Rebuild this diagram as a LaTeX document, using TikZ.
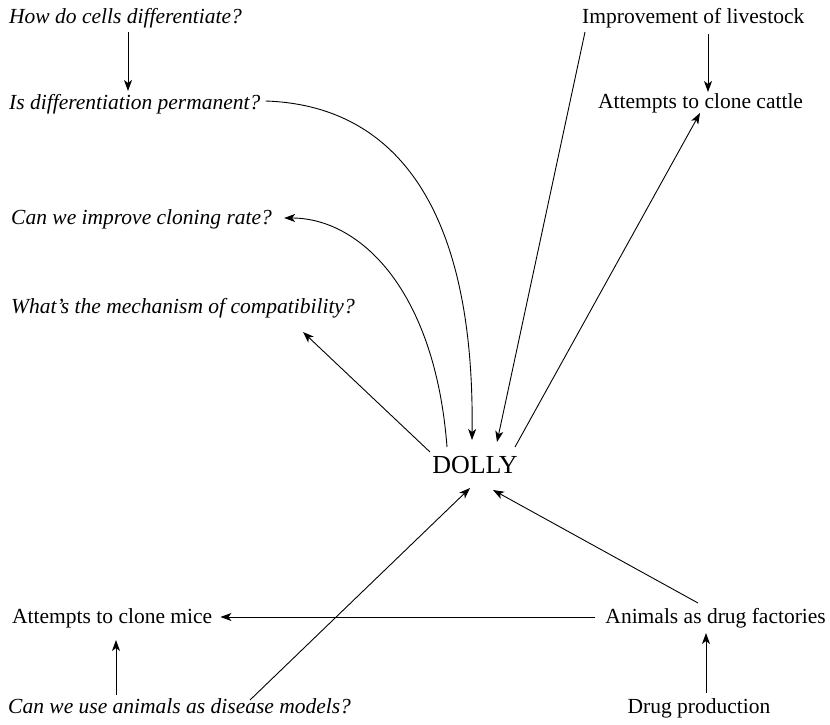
\documentclass[tikz,border=0pt]{standalone}
\usepackage{fontspec}
\setmainfont{Liberation Serif}
\usetikzlibrary{arrows.meta,calc}
\tikzset{
  lbl/.style={inner sep=0pt, font=\fontsize{21.5}{24}\selectfont},
  qst/.style={inner sep=0pt, font=\fontsize{21.5}{24}\selectfont\itshape},
  hub/.style={inner sep=0pt, font=\fontsize{26}{30}\selectfont},
  arr/.style={-{Stealth[length=11pt,width=8pt,inset=3pt]}, line width=0.9pt},
  con/.style={line width=0.9pt}
}
\begin{document}
\begin{tikzpicture}[x=1pt,y=-1pt]
\useasboundingbox (0,0) rectangle (830,725);
% nodes
\node[qst, anchor=base west] (how) at (9,24) {How do cells differentiate?};
\node[qst, anchor=base west] (isd) at (9,109) {Is differentiation permanent?};
\node[qst, anchor=base west] (cir) at (11,224) {Can we improve cloning rate?};
\node[qst, anchor=base west] (wmc) at (11,313) {What’s the mechanism of compatibility?};
\node[lbl, anchor=base west] (imp) at (582,24) {Improvement of livestock};
\node[lbl, anchor=base west] (cat) at (598,108) {Attempts to clone cattle};
\node[hub] (dolly) at (475,465) {DOLLY};
\node[lbl, anchor=base west] (mice) at (12,623) {Attempts to clone mice};
\node[lbl, anchor=base east] (ani) at (826,623) {Animals as drug factories};
\node[qst, anchor=base west] (use) at (8,713) {Can we use animals as disease models?};
\node[lbl, anchor=base] (drug) at (699,713) {Drug production};
% connectors
\draw[arr] ($(how.base west)+(119,8)$) -- ($(isd.base west)+(119,-18)$);
\draw[arr] ($(isd.base east)+(5,-8)$) .. controls (390,105) and (475,200) .. ($(dolly.center)+(-3,-25)$);
\draw[arr] ($(dolly.center)+(-28,-18)$) .. controls (435,290) and (360,218) .. ($(cir.base east)+(12,-6)$);
\draw[arr] ($(dolly.center)+(-45,-13)$) -- ($(wmc.base west)+(292,19)$);
\draw[arr] ($(imp.base west)+(3,8)$) -- ($(dolly.center)+(22,-23)$);
\draw[arr] ($(imp.base west)+(126,10)$) -- ($(cat.base west)+(110,-16)$);
\draw[arr] ($(dolly.center)+(40,-18)$) -- ($(cat.base west)+(102,5)$);
\draw[arr] ($(ani.base east)+(-128,-20)$) -- ($(dolly.center)+(18,25)$);
\draw[arr] ($(use.base west)+(242,-13)$) -- ($(dolly.center)+(-5,23)$);
\draw[arr] ($(ani.base west)+(-10,-6)$) -- ($(mice.base east)+(8,-6)$);
\draw[arr] ($(use.base west)+(108,-18)$) -- ($(mice.base west)+(104,17)$);
\draw[arr] ($(drug.base)+(7,-20)$) -- ($(ani.base east)+(-120,10)$);
\end{tikzpicture}
\end{document}
